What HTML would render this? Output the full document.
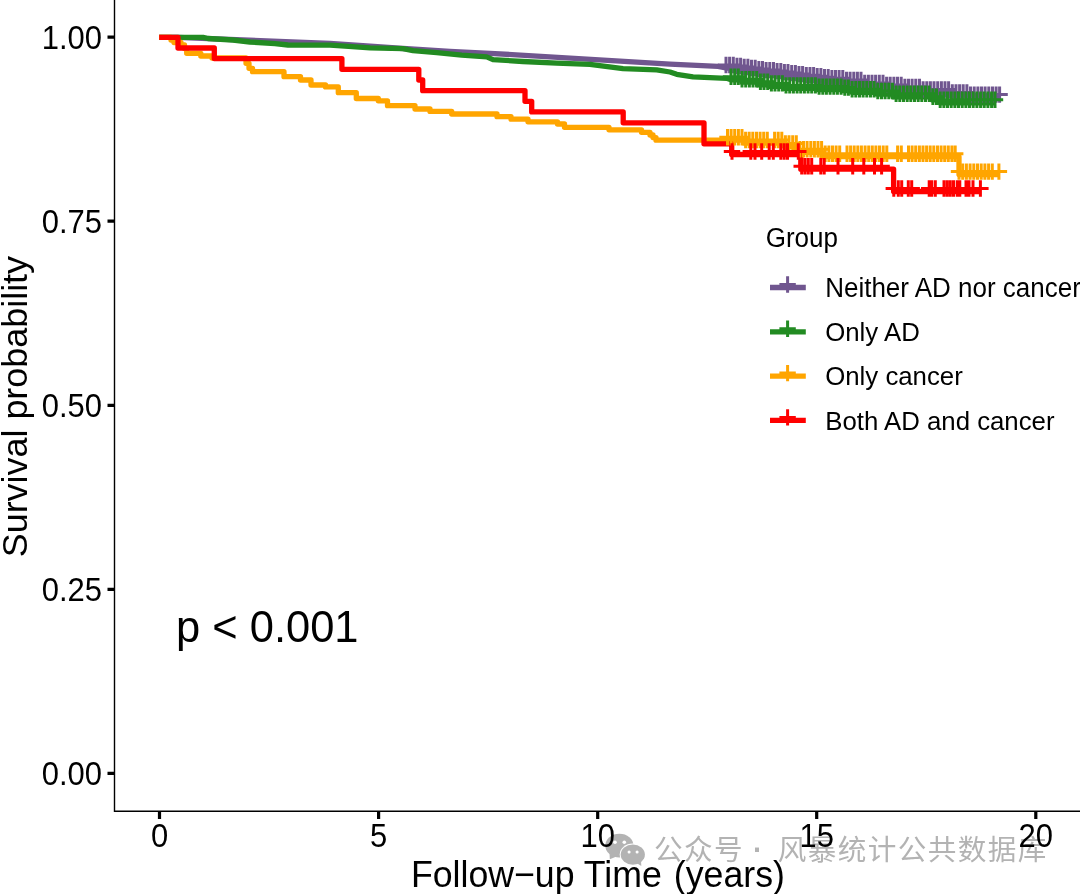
<!DOCTYPE html>
<html lang="en">
<head>
<meta charset="utf-8">
<title>Survival probability</title>
<style>
html,body{margin:0;padding:0;background:#fff;}
body{width:1080px;height:894px;overflow:hidden;}
svg{display:block;}
svg text{font-family:"Liberation Sans","Noto Sans CJK SC",sans-serif;}
svg text.cjk{font-family:"Liberation Sans","Noto Sans CJK SC",sans-serif;}
</style>
</head>
<body>
<svg width="1080" height="894" viewBox="0 0 1080 894">
<rect width="1080" height="894" fill="#fff"/>
<g id="wm" fill="#b3b3b3">
<ellipse cx="619.4" cy="845.7" rx="14.1" ry="11.9"/>
<path d="M609.5,853 L609.8,859.3 L616.5,856.5Z"/>
<ellipse cx="632.8" cy="854.6" rx="13.1" ry="11.1" fill="#fff"/>
<ellipse cx="632.8" cy="854.6" rx="12.1" ry="10.1"/>
<path d="M636.5,863 L641.3,866 L641,861Z"/>
<circle cx="615" cy="842.2" r="1.8" fill="#fff"/><circle cx="624.3" cy="842.2" r="1.8" fill="#fff"/>
<circle cx="629.1" cy="852" r="1.55" fill="#fff"/><circle cx="637.1" cy="852" r="1.55" fill="#fff"/>
<text y="860.4" font-size="28.6" letter-spacing="1.4" class="cjk"><tspan x="653.9">公众号</tspan><tspan x="743.6" font-weight="700"> · </tspan><tspan x="777.7">风暴统计公共数据库</tspan></text>
</g>
<g stroke="#000" fill="none">
<path d="M114.5,0V811.3H1080" stroke-width="1.4"/>
<path d="M107.5,37.2H114.5M107.5,221.2H114.5M107.5,405.3H114.5M107.5,589.3H114.5M107.5,773.3H114.5M159.5,811.3V819.0M378.6,811.3V819.0M597.7,811.3V819.0M816.7,811.3V819.0M1035.8,811.3V819.0" stroke-width="3.2"/>
</g>
<text transform="translate(102.1,48.5) scale(1.000,1.045)" font-size="31.0" text-anchor="end">1.00</text>
<text transform="translate(102.1,232.5) scale(1.000,1.045)" font-size="31.0" text-anchor="end">0.75</text>
<text transform="translate(102.1,416.6) scale(1.000,1.045)" font-size="31.0" text-anchor="end">0.50</text>
<text transform="translate(102.1,600.6) scale(1.000,1.045)" font-size="31.0" text-anchor="end">0.25</text>
<text transform="translate(102.1,784.6) scale(1.000,1.045)" font-size="31.0" text-anchor="end">0.00</text>
<text transform="translate(159.5,846.6) scale(1.000,1.045)" font-size="31.0" text-anchor="middle">0</text>
<text transform="translate(378.6,846.6) scale(1.000,1.045)" font-size="31.0" text-anchor="middle">5</text>
<text transform="translate(597.7,846.6) scale(1.000,1.045)" font-size="31.0" text-anchor="middle">10</text>
<text transform="translate(816.7,846.6) scale(1.000,1.045)" font-size="31.0" text-anchor="middle">15</text>
<text transform="translate(1035.8,846.6) scale(1.000,1.045)" font-size="31.0" text-anchor="middle">20</text>
<text transform="translate(410.9,887.0) scale(1.000,1.030)" font-size="35.7">Follow−up Time<tspan dx="2.2"> (years)</tspan></text>
<text transform="translate(26.9,406.6) rotate(-90) scale(1.000,0.990)" font-size="35.9" text-anchor="middle">Survival probability</text>
<text transform="translate(176.0,641.7) scale(1.000,1.025)" font-size="43.5">p &lt; 0.001</text>
<g fill="none" stroke-width="5.3" stroke-linejoin="round">
<path stroke="#70568F" d="M159.2,37.3L178.0,37.3L330.0,43.5L403.0,48.5L450.0,51.3L490.0,53.3L670.0,64.2L718.0,66.4L726.0,68.0L726.0,68.0H734.0V69.0H742.0V70.0H750.0V71.0H758.0V72.1H766.0V73.1H774.0V74.1H782.0V75.1H790.0V76.1H798.0V77.1H806.0V78.2H814.0V79.2H822.0V80.2H830.0V81.2H843.0V82.9H863.0V85.9H883.0V87.9H902.0V89.9H923.0V92.5H950.0V95.4H968.0V97.6H999.5"/>
<path stroke="#228B22" d="M159.2,37.3L203.0,37.3L208.0,38.5L233.0,40.0L250.0,42.0L275.0,43.7L288.0,45.0L330.0,45.2L345.0,46.2L370.0,47.8L403.0,48.7L413.0,50.7L436.7,52.7L461.7,55.2L486.7,56.8L493.0,59.6L523.0,61.5L556.7,63.2L590.0,64.3L623.0,68.7L656.7,69.8L670.0,72.0L676.7,74.3L693.0,76.8L726.7,78.3L731.0,79.8L731.0,79.8H742.0V82.2H757.5V84.8H769.0V86.4H785.0V88.4H818.0V89.6H843.0V90.6H852.0V92.3H877.0V94.0H893.0V96.8H932.0V99.8H940.0V102.8H995.0"/>
<path stroke="#FFA500" d="M159.2,37.3H171.0V40.0H174.0V42.5H181.0V45.0H184.5V48.5H186.7V53.3H200.8V56.0H212.0V58.0H246.0V63.3H249.0V68.3H252.5V71.7H284.0V76.7H300.5V80.0H311.0V85.0H325.5V86.9H338.3V92.7H356.3V98.5H378.3V100.8H387.5V105.7H415.0V109.0H430.0V111.4H451.7V114.0H497.0V116.7H511.0V119.2H528.0V121.8H557.5V124.0H564.5V127.3H609.0V129.8H641.5V132.3H650.0V135.0H653.0V137.6H656.0V140.2H744.0V143.0H785.0V146.4H796.5V152.3H822.0V156.7H959.0V174.6H999.0"/>
<path stroke="#FF0000" d="M159.2,37.3H178.0V48.0H214.3V58.6H341.9V69.3H418.8V80.0H422.7V90.7H525.0V101.3H531.7V111.9H623.2V122.8H704.0V143.8H731.7V154.5H800.8V169.2H893.6V191.5H980.4"/>
</g>
<g fill="none" stroke-width="3.0">
<path stroke="#70568F" d="M726.0,56.8v16.4M717.8,65.0h16.4M729.6,56.8v16.4M721.4,65.0h16.4M733.3,56.8v16.4M725.1,65.0h16.4M737.0,57.8v16.4M728.8,66.0h16.4M740.6,57.8v16.4M732.4,66.0h16.4M744.2,58.8v16.4M736.0,67.0h16.4M747.9,58.8v16.4M739.7,67.0h16.4M751.5,59.8v16.4M743.3,68.0h16.4M755.2,59.8v16.4M747.0,68.0h16.4M758.9,60.9v16.4M750.6,69.1h16.4M762.5,60.9v16.4M754.3,69.1h16.4M766.1,61.9v16.4M757.9,70.1h16.4M769.8,61.9v16.4M761.6,70.1h16.4M773.5,61.9v16.4M765.2,70.1h16.4M777.1,62.9v16.4M768.9,71.1h16.4M780.8,62.9v16.4M772.5,71.1h16.4M784.4,63.9v16.4M776.2,72.1h16.4M788.0,63.9v16.4M779.8,72.1h16.4M791.7,64.9v16.4M783.5,73.1h16.4M795.4,64.9v16.4M787.1,73.1h16.4M799.0,65.9v16.4M790.8,74.1h16.4M802.6,65.9v16.4M794.4,74.1h16.4M806.3,67.0v16.4M798.1,75.2h16.4M810.0,67.0v16.4M801.8,75.2h16.4M813.6,67.0v16.4M805.4,75.2h16.4M817.2,68.0v16.4M809.0,76.2h16.4M820.9,68.0v16.4M812.7,76.2h16.4M824.5,69.0v16.4M816.3,77.2h16.4M828.2,69.0v16.4M820.0,77.2h16.4M831.9,70.0v16.4M823.6,78.2h16.4M835.5,70.0v16.4M827.3,78.2h16.4M839.1,70.0v16.4M830.9,78.2h16.4M842.8,70.0v16.4M834.6,78.2h16.4M846.5,71.7v16.4M838.2,79.9h16.4M850.1,71.7v16.4M841.9,79.9h16.4M853.8,71.7v16.4M845.5,79.9h16.4M857.4,71.7v16.4M849.2,79.9h16.4M861.0,71.7v16.4M852.8,79.9h16.4M864.7,74.7v16.4M856.5,82.9h16.4M868.4,74.7v16.4M860.1,82.9h16.4M872.0,74.7v16.4M863.8,82.9h16.4M875.6,74.7v16.4M867.4,82.9h16.4M879.3,74.7v16.4M871.1,82.9h16.4M883.0,74.7v16.4M874.8,82.9h16.4M886.6,76.7v16.4M878.4,84.9h16.4M890.2,76.7v16.4M882.0,84.9h16.4M893.9,76.7v16.4M885.7,84.9h16.4M897.5,76.7v16.4M889.3,84.9h16.4M901.2,76.7v16.4M893.0,84.9h16.4M904.9,78.7v16.4M896.6,86.9h16.4M908.5,78.7v16.4M900.3,86.9h16.4M912.1,78.7v16.4M903.9,86.9h16.4M915.8,78.7v16.4M907.6,86.9h16.4M919.5,78.7v16.4M911.2,86.9h16.4M923.1,81.3v16.4M914.9,89.5h16.4M926.8,81.3v16.4M918.5,89.5h16.4M930.4,81.3v16.4M922.2,89.5h16.4M934.0,81.3v16.4M925.8,89.5h16.4M937.7,81.3v16.4M929.5,89.5h16.4M941.4,81.3v16.4M933.1,89.5h16.4M945.0,81.3v16.4M936.8,89.5h16.4M948.6,81.3v16.4M940.4,89.5h16.4M952.3,84.2v16.4M944.1,92.4h16.4M956.0,84.2v16.4M947.8,92.4h16.4M959.6,84.2v16.4M951.4,92.4h16.4M963.2,84.2v16.4M955.0,92.4h16.4M966.9,84.2v16.4M958.7,92.4h16.4M970.5,86.4v16.4M962.3,94.6h16.4M974.2,86.4v16.4M966.0,94.6h16.4M977.9,86.4v16.4M969.6,94.6h16.4M981.5,86.4v16.4M973.3,94.6h16.4M985.1,86.4v16.4M976.9,94.6h16.4M988.8,86.4v16.4M980.6,94.6h16.4M992.5,86.4v16.4M984.2,94.6h16.4M996.1,86.4v16.4M987.9,94.6h16.4M999.6,86.4v16.4M991.4,94.6h16.4"/>
<path stroke="#228B22" d="M731.0,68.5v16.4M722.8,76.8h16.4M734.7,68.5v16.4M726.5,76.8h16.4M738.3,68.5v16.4M730.1,76.8h16.4M742.0,71.0v16.4M733.8,79.2h16.4M745.7,71.0v16.4M737.5,79.2h16.4M749.4,71.0v16.4M741.1,79.2h16.4M753.0,71.0v16.4M744.8,79.2h16.4M756.7,71.0v16.4M748.5,79.2h16.4M760.4,73.5v16.4M752.2,81.8h16.4M764.0,73.5v16.4M755.8,81.8h16.4M767.7,73.5v16.4M759.5,81.8h16.4M771.4,75.2v16.4M763.2,83.4h16.4M775.0,75.2v16.4M766.8,83.4h16.4M778.7,75.2v16.4M770.5,83.4h16.4M782.4,75.2v16.4M774.2,83.4h16.4M786.0,77.2v16.4M777.8,85.4h16.4M789.7,77.2v16.4M781.5,85.4h16.4M793.4,77.2v16.4M785.2,85.4h16.4M797.1,77.2v16.4M788.9,85.4h16.4M800.7,77.2v16.4M792.5,85.4h16.4M804.4,77.2v16.4M796.2,85.4h16.4M808.1,77.2v16.4M799.9,85.4h16.4M811.7,77.2v16.4M803.5,85.4h16.4M815.4,77.2v16.4M807.2,85.4h16.4M819.1,78.4v16.4M810.9,86.6h16.4M822.8,78.4v16.4M814.5,86.6h16.4M826.4,78.4v16.4M818.2,86.6h16.4M830.1,78.4v16.4M821.9,86.6h16.4M833.8,78.4v16.4M825.6,86.6h16.4M837.4,78.4v16.4M829.2,86.6h16.4M841.1,78.4v16.4M832.9,86.6h16.4M844.8,79.4v16.4M836.6,87.6h16.4M848.4,79.4v16.4M840.2,87.6h16.4M852.1,81.1v16.4M843.9,89.3h16.4M855.8,81.1v16.4M847.6,89.3h16.4M859.5,81.1v16.4M851.2,89.3h16.4M863.1,81.1v16.4M854.9,89.3h16.4M866.8,81.1v16.4M858.6,89.3h16.4M870.5,81.1v16.4M862.3,89.3h16.4M874.1,81.1v16.4M865.9,89.3h16.4M877.8,82.8v16.4M869.6,91.0h16.4M881.5,82.8v16.4M873.3,91.0h16.4M885.1,82.8v16.4M876.9,91.0h16.4M888.8,82.8v16.4M880.6,91.0h16.4M892.5,82.8v16.4M884.3,91.0h16.4M896.1,85.6v16.4M887.9,93.8h16.4M899.8,85.6v16.4M891.6,93.8h16.4M903.5,85.6v16.4M895.3,93.8h16.4M907.2,85.6v16.4M899.0,93.8h16.4M910.8,85.6v16.4M902.6,93.8h16.4M914.5,85.6v16.4M906.3,93.8h16.4M918.2,85.6v16.4M910.0,93.8h16.4M921.8,85.6v16.4M913.6,93.8h16.4M925.5,85.6v16.4M917.3,93.8h16.4M929.2,85.6v16.4M921.0,93.8h16.4M932.9,88.6v16.4M924.6,96.8h16.4M936.5,88.6v16.4M928.3,96.8h16.4M940.2,91.6v16.4M932.0,99.8h16.4M943.9,91.6v16.4M935.7,99.8h16.4M947.5,91.6v16.4M939.3,99.8h16.4M951.2,91.6v16.4M943.0,99.8h16.4M954.9,91.6v16.4M946.7,99.8h16.4M958.5,91.6v16.4M950.3,99.8h16.4M962.2,91.6v16.4M954.0,99.8h16.4M965.9,91.6v16.4M957.7,99.8h16.4M969.5,91.6v16.4M961.3,99.8h16.4M973.2,91.6v16.4M965.0,99.8h16.4M976.9,91.6v16.4M968.7,99.8h16.4M980.6,91.6v16.4M972.4,99.8h16.4M984.2,91.6v16.4M976.0,99.8h16.4M987.9,91.6v16.4M979.7,99.8h16.4M991.6,91.6v16.4M983.4,99.8h16.4M995.0,91.6v16.4M986.8,99.8h16.4"/>
<path stroke="#FFA500" d="M727.5,129.0v16.4M719.3,137.2h16.4M731.1,129.0v16.4M722.9,137.2h16.4M734.7,129.0v16.4M726.5,137.2h16.4M738.4,129.0v16.4M730.2,137.2h16.4M742.0,129.0v16.4M733.8,137.2h16.4M745.6,131.8v16.4M737.4,140.0h16.4M749.2,131.8v16.4M741.0,140.0h16.4M752.8,131.8v16.4M744.6,140.0h16.4M756.5,131.8v16.4M748.3,140.0h16.4M760.1,131.8v16.4M751.9,140.0h16.4M763.7,131.8v16.4M755.5,140.0h16.4M767.3,131.8v16.4M759.1,140.0h16.4M774.6,131.8v16.4M766.4,140.0h16.4M778.2,131.8v16.4M770.0,140.0h16.4M781.8,131.8v16.4M773.6,140.0h16.4M785.4,135.2v16.4M777.2,143.4h16.4M789.0,135.2v16.4M780.8,143.4h16.4M792.7,135.2v16.4M784.5,143.4h16.4M796.3,135.2v16.4M788.1,143.4h16.4M799.9,141.1v16.4M791.7,149.3h16.4M803.5,141.1v16.4M795.3,149.3h16.4M807.1,141.1v16.4M798.9,149.3h16.4M810.8,141.1v16.4M802.6,149.3h16.4M814.4,141.1v16.4M806.2,149.3h16.4M818.0,141.1v16.4M809.8,149.3h16.4M821.6,141.1v16.4M813.4,149.3h16.4M825.2,145.5v16.4M817.0,153.7h16.4M828.9,145.5v16.4M820.7,153.7h16.4M832.5,145.5v16.4M824.3,153.7h16.4M836.1,145.5v16.4M827.9,153.7h16.4M839.7,145.5v16.4M831.5,153.7h16.4M847.0,145.5v16.4M838.8,153.7h16.4M850.6,145.5v16.4M842.4,153.7h16.4M854.2,145.5v16.4M846.0,153.7h16.4M857.8,145.5v16.4M849.6,153.7h16.4M861.4,145.5v16.4M853.2,153.7h16.4M865.1,145.5v16.4M856.9,153.7h16.4M868.7,145.5v16.4M860.5,153.7h16.4M872.3,145.5v16.4M864.1,153.7h16.4M875.9,145.5v16.4M867.7,153.7h16.4M879.5,145.5v16.4M871.3,153.7h16.4M883.2,145.5v16.4M875.0,153.7h16.4M886.8,145.5v16.4M878.6,153.7h16.4M897.6,145.5v16.4M889.4,153.7h16.4M901.3,145.5v16.4M893.1,153.7h16.4M908.5,145.5v16.4M900.3,153.7h16.4M912.1,145.5v16.4M903.9,153.7h16.4M915.7,145.5v16.4M907.5,153.7h16.4M919.4,145.5v16.4M911.2,153.7h16.4M923.0,145.5v16.4M914.8,153.7h16.4M926.6,145.5v16.4M918.4,153.7h16.4M930.2,145.5v16.4M922.0,153.7h16.4M933.8,145.5v16.4M925.6,153.7h16.4M937.5,145.5v16.4M929.3,153.7h16.4M941.1,145.5v16.4M932.9,153.7h16.4M944.7,145.5v16.4M936.5,153.7h16.4M948.3,145.5v16.4M940.1,153.7h16.4M951.9,145.5v16.4M943.7,153.7h16.4M955.2,145.5v16.4M947.0,153.7h16.4M959.0,163.4v16.4M950.8,171.6h16.4M962.7,163.4v16.4M954.5,171.6h16.4M966.4,163.4v16.4M958.2,171.6h16.4M970.1,163.4v16.4M961.9,171.6h16.4M973.8,163.4v16.4M965.6,171.6h16.4M977.5,163.4v16.4M969.3,171.6h16.4M981.2,163.4v16.4M973.0,171.6h16.4M984.9,163.4v16.4M976.7,171.6h16.4M988.6,163.4v16.4M980.4,171.6h16.4M992.3,163.4v16.4M984.1,171.6h16.4M998.9,163.4v16.4M990.7,171.6h16.4"/>
<path stroke="#FF0000" d="M732.0,143.3v16.4M723.8,151.5h16.4M750.8,143.3v16.4M742.6,151.5h16.4M755.0,143.3v16.4M746.8,151.5h16.4M761.7,143.3v16.4M753.5,151.5h16.4M769.2,143.3v16.4M761.0,151.5h16.4M773.3,143.3v16.4M765.1,151.5h16.4M780.8,143.3v16.4M772.6,151.5h16.4M784.2,143.3v16.4M776.0,151.5h16.4M787.5,143.3v16.4M779.3,151.5h16.4M798.3,143.3v16.4M790.1,151.5h16.4M801.7,158.0v16.4M793.5,166.2h16.4M805.0,158.0v16.4M796.8,166.2h16.4M808.3,158.0v16.4M800.1,166.2h16.4M811.7,158.0v16.4M803.5,166.2h16.4M820.8,158.0v16.4M812.6,166.2h16.4M824.2,158.0v16.4M816.0,166.2h16.4M838.0,158.0v16.4M829.8,166.2h16.4M852.7,158.0v16.4M844.5,166.2h16.4M863.8,158.0v16.4M855.6,166.2h16.4M874.5,158.0v16.4M866.3,166.2h16.4M881.6,158.0v16.4M873.4,166.2h16.4M893.8,180.3v16.4M885.6,188.5h16.4M898.3,180.3v16.4M890.1,188.5h16.4M901.7,180.3v16.4M893.5,188.5h16.4M908.3,180.3v16.4M900.1,188.5h16.4M911.7,180.3v16.4M903.5,188.5h16.4M929.2,180.3v16.4M921.0,188.5h16.4M931.7,180.3v16.4M923.5,188.5h16.4M935.3,180.3v16.4M927.1,188.5h16.4M944.0,180.3v16.4M935.8,188.5h16.4M947.2,180.3v16.4M939.0,188.5h16.4M950.3,180.3v16.4M942.1,188.5h16.4M953.5,180.3v16.4M945.3,188.5h16.4M957.2,180.3v16.4M949.0,188.5h16.4M959.8,180.3v16.4M951.6,188.5h16.4M966.0,180.3v16.4M957.8,188.5h16.4M969.0,180.3v16.4M960.8,188.5h16.4M973.0,180.3v16.4M964.8,188.5h16.4M980.4,180.3v16.4M972.2,188.5h16.4"/>
</g>
<text transform="translate(765.7,246.7) scale(1.000,1.030)" font-size="26.0">Group</text>
<path d="M770,287.5H805.8" stroke="#70568F" stroke-width="5.3" fill="none"/>
<path d="M787.6,276.3v16.4M779.4,284.5h16.4" stroke="#70568F" stroke-width="3.0" fill="none"/>
<text transform="translate(825.2,296.6) scale(1.000,1.030)" font-size="26.0">Neither AD nor cancer</text>
<path d="M770,331.8H805.8" stroke="#228B22" stroke-width="5.3" fill="none"/>
<path d="M787.6,320.6v16.4M779.4,328.8h16.4" stroke="#228B22" stroke-width="3.0" fill="none"/>
<text transform="translate(825.2,340.9) scale(1.000,1.030)" font-size="25.8">Only AD</text>
<path d="M770,376.1H805.8" stroke="#FFA500" stroke-width="5.3" fill="none"/>
<path d="M787.6,364.9v16.4M779.4,373.1h16.4" stroke="#FFA500" stroke-width="3.0" fill="none"/>
<text transform="translate(825.2,385.2) scale(1.000,1.030)" font-size="25.8">Only cancer</text>
<path d="M770,420.4H805.8" stroke="#FF0000" stroke-width="5.3" fill="none"/>
<path d="M787.6,409.2v16.4M779.4,417.4h16.4" stroke="#FF0000" stroke-width="3.0" fill="none"/>
<text transform="translate(825.2,429.5) scale(1.000,1.030)" font-size="25.8">Both AD and cancer</text>
</svg>
</body>
</html>
